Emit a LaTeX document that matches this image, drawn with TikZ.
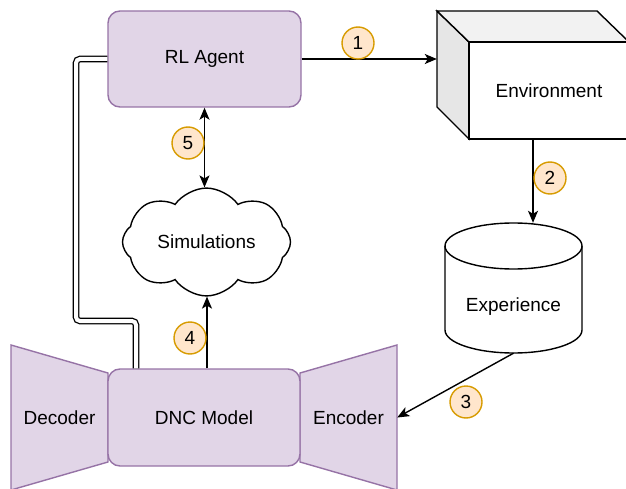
\documentclass[tikz,border=0pt]{standalone}
\usepackage{fontspec}
\setmainfont{Liberation Sans}
\usetikzlibrary{arrows.meta,shapes.symbols}
\definecolor{lilac}{HTML}{E1D5E7}
\definecolor{lilacline}{HTML}{9673A6}
\definecolor{peach}{HTML}{FFE6CC}
\definecolor{amber}{HTML}{D79B00}
\definecolor{cubeside}{HTML}{E6E6E6}
\definecolor{cubetop}{HTML}{F2F2F2}
\tikzset{
  block/.style={rectangle, rounded corners=12pt, fill=lilac, draw=lilacline, line width=1.4pt,
    minimum width=193pt, minimum height=96pt},
  wing/.style={fill=lilac, draw=lilacline, line width=1.4pt},
  num/.style={circle, fill=peach, draw=amber, line width=1.4pt, minimum size=32pt, inner sep=0pt},
  link/.style={line width=1.4pt, -{Stealth[length=12pt,width=10pt,inset=3pt]}},
  wire/.style={line width=1.3pt, double, double distance=4pt, rounded corners=4pt},
}

\begin{document}
\begin{tikzpicture}[x=1pt, y=-1pt, font=\fontsize{19}{22}\selectfont]
    \useasboundingbox (0,0) rectangle (626,489);
    % decoder and encoder wings
    \draw[wing] (11,345) -- (108,373) -- (108,462) -- (11,490) -- cycle;
    \draw[wing] (300,373) -- (397,345) -- (397,490) -- (300,462) -- cycle;
    \node (dec) at (59.5,417.5) {Decoder};
    \node[inner sep=0pt, minimum width=97pt] (enc) at (348.5,417.5) {Encoder};
    \node[block, minimum width=192pt, minimum height=97pt] (dnc) at (204,417.5) {DNC Model};
    \node[block] (agent) at (204.5,59) {RL Agent};
    % environment cube
    \node[inner sep=0pt, minimum width=192pt, minimum height=128pt] (env) at (533,75) {};
    \draw[line width=1.4pt, fill=cubeside] (437,11) -- (469,42) -- (469,139) -- (437,107) -- cycle;
    \draw[line width=1.4pt, fill=cubetop] (437,11) -- (597,11) -- (629,42) -- (469,42) -- cycle;
    \draw[line width=1.4pt, fill=white] (469,42) rectangle (629,139);
    \node (envtext) at (549,91) {Environment};
    % experience store
    \node[inner sep=0pt, minimum width=137pt, minimum height=130pt] (exp) at (513.5,288) {};
    \draw[line width=1.4pt, fill=white] (445,246) -- (445,330)
        arc[start angle=180, end angle=360, x radius=68.5pt, y radius=23pt] -- (582,246)
        arc[start angle=0, end angle=180, x radius=68.5pt, y radius=23pt] -- cycle;
    \draw[line width=1.4pt] (445,246) arc[start angle=180, end angle=360, x radius=68.5pt, y radius=23pt];
    \node (exptext) at (513.5,307) {Experience};
    % simulations
    \node[cloud, draw, fill=white, line width=1.4pt, cloud puffs=8, cloud puff arc=110, aspect=1.6,
        inner sep=0pt, minimum width=168pt, minimum height=104pt] (sim) at (206.5,242) {Simulations};
    % connectors
    \draw[link] (agent.east) -- (agent.east -| env.west);
    \draw[link] (env.south) -- (env.south |- exp.north);
    \draw[link] (exp.south) -- (enc.east);
    \draw[link] ([xshift=3pt]dnc.north) -- ([xshift=3pt]dnc.north |- sim.south);
    \draw[link, {Stealth[length=12pt,width=10pt,inset=3pt]}-{Stealth[length=12pt,width=10pt,inset=3pt]}]
        (agent.south) -- (agent.south |- sim.north);
    \draw[wire] ([xshift=-68pt]dnc.north) |- (76,321) |- (agent.west);
    % step numbers
    \node[num] (n1) at (358,43) {1};
    \node[num] (n2) at (550,178) {2};
    \node[num] (n3) at (466,402) {3};
    \node[num] (n4) at (190,338) {4};
    \node[num] (n5) at (188,143) {5};
\end{tikzpicture}
\end{document}
